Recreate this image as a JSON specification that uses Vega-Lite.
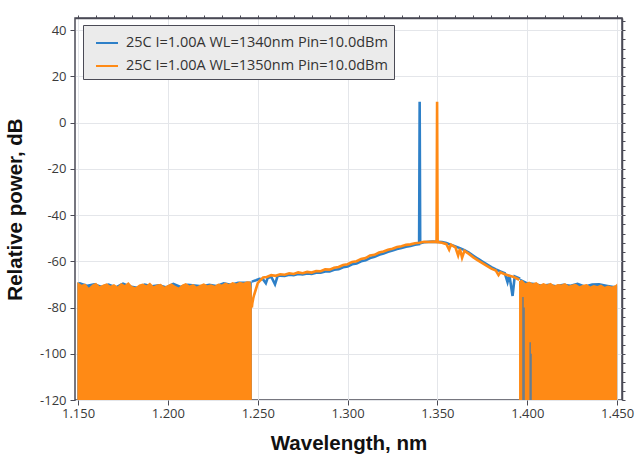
{
  "$schema": "https://vega.github.io/schema/vega-lite/v6.json",
  "width": 547,
  "height": 382,
  "autosize": {"type": "none"},
  "padding": {"left": 75, "top": 18, "right": 18, "bottom": 65},
  "background": "white",
  "config": {
    "view": {"stroke": "#4a4a55", "strokeWidth": 1.5},
    "axis": {
      "labelFont": "Open Sans",
      "labelFontSize": 13,
      "labelColor": "#3a3a3a",
      "titleFont": "Liberation Sans",
      "titleFontSize": 20.5,
      "titleFontWeight": "bold",
      "titleColor": "#111111",
      "tickColor": "#4a4a55",
      "domainColor": "#4a4a55",
      "gridColor": "#e4e6ea",
      "gridWidth": 1
    },
    "legend": {
      "title": null,
      "orient": "none",
      "legendX": 8,
      "legendY": 7,
      "symbolType": "stroke",
      "symbolSize": 484,
      "symbolStrokeWidth": 2,
      "symbolOffset": 6,
      "labelOffset": 7,
      "labelFont": "Open Sans",
      "labelFontSize": 14.5,
      "labelColor": "#333333",
      "labelLimit": 400,
      "padding": 6,
      "rowPadding": 4,
      "fillColor": "#ebebeb",
      "strokeColor": "#4a4a55",
      "cornerRadius": 0
    }
  },
  "datasets": {
    "floor": [
      {"s": "1340", "g": "L", "wl": 1.1496, "v": -69.3},
      {"s": "1340", "g": "L", "wl": 1.151, "v": -69.0},
      {"s": "1340", "g": "L", "wl": 1.155, "v": -70.0},
      {"s": "1340", "g": "L", "wl": 1.159, "v": -69.4},
      {"s": "1340", "g": "L", "wl": 1.163, "v": -70.5},
      {"s": "1340", "g": "L", "wl": 1.167, "v": -69.5},
      {"s": "1340", "g": "L", "wl": 1.171, "v": -70.7},
      {"s": "1340", "g": "L", "wl": 1.175, "v": -69.1},
      {"s": "1340", "g": "L", "wl": 1.179, "v": -70.4},
      {"s": "1340", "g": "L", "wl": 1.183, "v": -70.9},
      {"s": "1340", "g": "L", "wl": 1.187, "v": -69.5},
      {"s": "1340", "g": "L", "wl": 1.191, "v": -70.3},
      {"s": "1340", "g": "L", "wl": 1.195, "v": -69.8},
      {"s": "1340", "g": "L", "wl": 1.199, "v": -70.7},
      {"s": "1340", "g": "L", "wl": 1.203, "v": -69.2},
      {"s": "1340", "g": "L", "wl": 1.207, "v": -70.5},
      {"s": "1340", "g": "L", "wl": 1.211, "v": -69.6},
      {"s": "1340", "g": "L", "wl": 1.215, "v": -69.9},
      {"s": "1340", "g": "L", "wl": 1.219, "v": -70.3},
      {"s": "1340", "g": "L", "wl": 1.223, "v": -69.6},
      {"s": "1340", "g": "L", "wl": 1.227, "v": -70.2},
      {"s": "1340", "g": "L", "wl": 1.231, "v": -69.0},
      {"s": "1340", "g": "L", "wl": 1.235, "v": -69.6},
      {"s": "1340", "g": "L", "wl": 1.239, "v": -68.8},
      {"s": "1340", "g": "L", "wl": 1.243, "v": -68.7},
      {"s": "1340", "g": "L", "wl": 1.2467, "v": -68.8},
      {"s": "1340", "g": "R", "wl": 1.396, "v": -67.5},
      {"s": "1340", "g": "R", "wl": 1.400, "v": -69.0},
      {"s": "1340", "g": "R", "wl": 1.404, "v": -69.3},
      {"s": "1340", "g": "R", "wl": 1.408, "v": -70.0},
      {"s": "1340", "g": "R", "wl": 1.412, "v": -69.6},
      {"s": "1340", "g": "R", "wl": 1.416, "v": -70.3},
      {"s": "1340", "g": "R", "wl": 1.420, "v": -69.6},
      {"s": "1340", "g": "R", "wl": 1.424, "v": -70.1},
      {"s": "1340", "g": "R", "wl": 1.428, "v": -69.2},
      {"s": "1340", "g": "R", "wl": 1.432, "v": -70.4},
      {"s": "1340", "g": "R", "wl": 1.436, "v": -69.5},
      {"s": "1340", "g": "R", "wl": 1.440, "v": -69.4},
      {"s": "1340", "g": "R", "wl": 1.444, "v": -70.1},
      {"s": "1340", "g": "R", "wl": 1.448, "v": -70.6},
      {"s": "1340", "g": "R", "wl": 1.450, "v": -70.5},
      {"s": "1350", "g": "L", "wl": 1.1496, "v": -69.0},
      {"s": "1350", "g": "L", "wl": 1.152, "v": -70.2},
      {"s": "1350", "g": "L", "wl": 1.154, "v": -69.6},
      {"s": "1350", "g": "L", "wl": 1.156, "v": -71.5},
      {"s": "1350", "g": "L", "wl": 1.158, "v": -70.0},
      {"s": "1350", "g": "L", "wl": 1.160, "v": -69.3},
      {"s": "1350", "g": "L", "wl": 1.162, "v": -70.8},
      {"s": "1350", "g": "L", "wl": 1.164, "v": -70.1},
      {"s": "1350", "g": "L", "wl": 1.166, "v": -69.5},
      {"s": "1350", "g": "L", "wl": 1.168, "v": -70.6},
      {"s": "1350", "g": "L", "wl": 1.170, "v": -69.8},
      {"s": "1350", "g": "L", "wl": 1.172, "v": -70.9},
      {"s": "1350", "g": "L", "wl": 1.174, "v": -69.4},
      {"s": "1350", "g": "L", "wl": 1.176, "v": -70.3},
      {"s": "1350", "g": "L", "wl": 1.178, "v": -69.0},
      {"s": "1350", "g": "L", "wl": 1.180, "v": -70.7},
      {"s": "1350", "g": "L", "wl": 1.182, "v": -71.2},
      {"s": "1350", "g": "L", "wl": 1.184, "v": -70.0},
      {"s": "1350", "g": "L", "wl": 1.186, "v": -69.6},
      {"s": "1350", "g": "L", "wl": 1.188, "v": -70.4},
      {"s": "1350", "g": "L", "wl": 1.190, "v": -69.2},
      {"s": "1350", "g": "L", "wl": 1.192, "v": -70.8},
      {"s": "1350", "g": "L", "wl": 1.194, "v": -70.1},
      {"s": "1350", "g": "L", "wl": 1.196, "v": -69.7},
      {"s": "1350", "g": "L", "wl": 1.198, "v": -71.0},
      {"s": "1350", "g": "L", "wl": 1.200, "v": -70.3},
      {"s": "1350", "g": "L", "wl": 1.202, "v": -69.5},
      {"s": "1350", "g": "L", "wl": 1.204, "v": -70.6},
      {"s": "1350", "g": "L", "wl": 1.206, "v": -71.3},
      {"s": "1350", "g": "L", "wl": 1.208, "v": -70.0},
      {"s": "1350", "g": "L", "wl": 1.210, "v": -69.4},
      {"s": "1350", "g": "L", "wl": 1.212, "v": -70.5},
      {"s": "1350", "g": "L", "wl": 1.214, "v": -69.8},
      {"s": "1350", "g": "L", "wl": 1.216, "v": -70.9},
      {"s": "1350", "g": "L", "wl": 1.218, "v": -70.2},
      {"s": "1350", "g": "L", "wl": 1.220, "v": -69.5},
      {"s": "1350", "g": "L", "wl": 1.222, "v": -70.4},
      {"s": "1350", "g": "L", "wl": 1.224, "v": -69.9},
      {"s": "1350", "g": "L", "wl": 1.226, "v": -70.6},
      {"s": "1350", "g": "L", "wl": 1.228, "v": -69.6},
      {"s": "1350", "g": "L", "wl": 1.230, "v": -70.1},
      {"s": "1350", "g": "L", "wl": 1.232, "v": -69.2},
      {"s": "1350", "g": "L", "wl": 1.234, "v": -69.8},
      {"s": "1350", "g": "L", "wl": 1.236, "v": -69.0},
      {"s": "1350", "g": "L", "wl": 1.238, "v": -69.6},
      {"s": "1350", "g": "L", "wl": 1.240, "v": -68.9},
      {"s": "1350", "g": "L", "wl": 1.242, "v": -69.3},
      {"s": "1350", "g": "L", "wl": 1.244, "v": -68.6},
      {"s": "1350", "g": "L", "wl": 1.246, "v": -68.8},
      {"s": "1350", "g": "L", "wl": 1.2467, "v": -72.0},
      {"s": "1350", "g": "R", "wl": 1.3954, "v": -68.5},
      {"s": "1350", "g": "R", "wl": 1.397, "v": -68.0},
      {"s": "1350", "g": "R", "wl": 1.399, "v": -69.5},
      {"s": "1350", "g": "R", "wl": 1.401, "v": -68.8},
      {"s": "1350", "g": "R", "wl": 1.403, "v": -69.6},
      {"s": "1350", "g": "R", "wl": 1.405, "v": -69.0},
      {"s": "1350", "g": "R", "wl": 1.407, "v": -70.2},
      {"s": "1350", "g": "R", "wl": 1.409, "v": -69.4},
      {"s": "1350", "g": "R", "wl": 1.411, "v": -70.0},
      {"s": "1350", "g": "R", "wl": 1.413, "v": -69.3},
      {"s": "1350", "g": "R", "wl": 1.415, "v": -70.5},
      {"s": "1350", "g": "R", "wl": 1.417, "v": -69.8},
      {"s": "1350", "g": "R", "wl": 1.419, "v": -70.1},
      {"s": "1350", "g": "R", "wl": 1.421, "v": -69.4},
      {"s": "1350", "g": "R", "wl": 1.423, "v": -70.6},
      {"s": "1350", "g": "R", "wl": 1.425, "v": -70.0},
      {"s": "1350", "g": "R", "wl": 1.427, "v": -69.7},
      {"s": "1350", "g": "R", "wl": 1.429, "v": -70.8},
      {"s": "1350", "g": "R", "wl": 1.431, "v": -70.2},
      {"s": "1350", "g": "R", "wl": 1.433, "v": -69.8},
      {"s": "1350", "g": "R", "wl": 1.435, "v": -70.9},
      {"s": "1350", "g": "R", "wl": 1.437, "v": -70.3},
      {"s": "1350", "g": "R", "wl": 1.439, "v": -70.7},
      {"s": "1350", "g": "R", "wl": 1.441, "v": -70.1},
      {"s": "1350", "g": "R", "wl": 1.443, "v": -71.0},
      {"s": "1350", "g": "R", "wl": 1.445, "v": -70.5},
      {"s": "1350", "g": "R", "wl": 1.447, "v": -70.9},
      {"s": "1350", "g": "R", "wl": 1.449, "v": -70.4},
      {"s": "1350", "g": "R", "wl": 1.450, "v": -69.6}
    ],
    "trace": [
      {"s": "1340", "wl": 1.2467, "v": -68.8},
      {"s": "1340", "wl": 1.2490, "v": -68.2},
      {"s": "1340", "wl": 1.2510, "v": -67.6},
      {"s": "1340", "wl": 1.2530, "v": -67.9},
      {"s": "1340", "wl": 1.2545, "v": -69.5},
      {"s": "1340", "wl": 1.2555, "v": -67.3},
      {"s": "1340", "wl": 1.2575, "v": -66.7},
      {"s": "1340", "wl": 1.2596, "v": -70.0},
      {"s": "1340", "wl": 1.2610, "v": -66.5},
      {"s": "1340", "wl": 1.2625, "v": -66.2},
      {"s": "1340", "wl": 1.2650, "v": -66.3},
      {"s": "1340", "wl": 1.2675, "v": -65.8},
      {"s": "1340", "wl": 1.2700, "v": -66.0},
      {"s": "1340", "wl": 1.2725, "v": -65.5},
      {"s": "1340", "wl": 1.2750, "v": -65.7},
      {"s": "1340", "wl": 1.2775, "v": -65.3},
      {"s": "1340", "wl": 1.2800, "v": -65.5},
      {"s": "1340", "wl": 1.2825, "v": -65.0},
      {"s": "1340", "wl": 1.2850, "v": -65.0},
      {"s": "1340", "wl": 1.2875, "v": -64.4},
      {"s": "1340", "wl": 1.2900, "v": -64.4},
      {"s": "1340", "wl": 1.2925, "v": -63.7},
      {"s": "1340", "wl": 1.2950, "v": -63.5},
      {"s": "1340", "wl": 1.2975, "v": -62.6},
      {"s": "1340", "wl": 1.3000, "v": -62.3},
      {"s": "1340", "wl": 1.3025, "v": -61.3},
      {"s": "1340", "wl": 1.3050, "v": -61.0},
      {"s": "1340", "wl": 1.3075, "v": -60.0},
      {"s": "1340", "wl": 1.3100, "v": -59.6},
      {"s": "1340", "wl": 1.3125, "v": -58.6},
      {"s": "1340", "wl": 1.3150, "v": -58.1},
      {"s": "1340", "wl": 1.3175, "v": -57.2},
      {"s": "1340", "wl": 1.3200, "v": -56.7},
      {"s": "1340", "wl": 1.3225, "v": -55.9},
      {"s": "1340", "wl": 1.3250, "v": -55.4},
      {"s": "1340", "wl": 1.3275, "v": -54.7},
      {"s": "1340", "wl": 1.3300, "v": -54.3},
      {"s": "1340", "wl": 1.3325, "v": -53.7},
      {"s": "1340", "wl": 1.3350, "v": -53.4},
      {"s": "1340", "wl": 1.3375, "v": -52.9},
      {"s": "1340", "wl": 1.3398, "v": -52.6},
      {"s": "1340", "wl": 1.3401, "v": 9.0},
      {"s": "1340", "wl": 1.3404, "v": -52.2},
      {"s": "1340", "wl": 1.3425, "v": -51.8},
      {"s": "1340", "wl": 1.3450, "v": -51.6},
      {"s": "1340", "wl": 1.3475, "v": -51.5},
      {"s": "1340", "wl": 1.3500, "v": -51.6},
      {"s": "1340", "wl": 1.3525, "v": -51.7},
      {"s": "1340", "wl": 1.3550, "v": -52.1},
      {"s": "1340", "wl": 1.3575, "v": -52.9},
      {"s": "1340", "wl": 1.3600, "v": -53.6},
      {"s": "1340", "wl": 1.3625, "v": -54.3},
      {"s": "1340", "wl": 1.3650, "v": -55.2},
      {"s": "1340", "wl": 1.3675, "v": -56.3},
      {"s": "1340", "wl": 1.3700, "v": -57.6},
      {"s": "1340", "wl": 1.3725, "v": -58.9},
      {"s": "1340", "wl": 1.3750, "v": -60.1},
      {"s": "1340", "wl": 1.3775, "v": -61.3},
      {"s": "1340", "wl": 1.3800, "v": -62.5},
      {"s": "1340", "wl": 1.3825, "v": -63.5},
      {"s": "1340", "wl": 1.3850, "v": -64.4},
      {"s": "1340", "wl": 1.3875, "v": -65.2},
      {"s": "1340", "wl": 1.3890, "v": -69.0},
      {"s": "1340", "wl": 1.3900, "v": -65.9},
      {"s": "1340", "wl": 1.3918, "v": -75.0},
      {"s": "1340", "wl": 1.3930, "v": -66.5},
      {"s": "1340", "wl": 1.3960, "v": -67.5},
      {"s": "1350", "wl": 1.2467, "v": -80.0},
      {"s": "1350", "wl": 1.2470, "v": -78.0},
      {"s": "1350", "wl": 1.2475, "v": -76.0},
      {"s": "1350", "wl": 1.2480, "v": -74.5},
      {"s": "1350", "wl": 1.2490, "v": -72.0},
      {"s": "1350", "wl": 1.2500, "v": -69.5},
      {"s": "1350", "wl": 1.2515, "v": -68.2},
      {"s": "1350", "wl": 1.2530, "v": -67.0},
      {"s": "1350", "wl": 1.2550, "v": -66.8},
      {"s": "1350", "wl": 1.2575, "v": -66.0},
      {"s": "1350", "wl": 1.2600, "v": -66.3},
      {"s": "1350", "wl": 1.2625, "v": -65.6},
      {"s": "1350", "wl": 1.2650, "v": -65.8},
      {"s": "1350", "wl": 1.2675, "v": -65.2},
      {"s": "1350", "wl": 1.2700, "v": -65.5},
      {"s": "1350", "wl": 1.2725, "v": -64.8},
      {"s": "1350", "wl": 1.2750, "v": -65.2},
      {"s": "1350", "wl": 1.2775, "v": -64.6},
      {"s": "1350", "wl": 1.2800, "v": -64.9},
      {"s": "1350", "wl": 1.2825, "v": -64.2},
      {"s": "1350", "wl": 1.2850, "v": -64.3},
      {"s": "1350", "wl": 1.2875, "v": -63.5},
      {"s": "1350", "wl": 1.2900, "v": -63.6},
      {"s": "1350", "wl": 1.2925, "v": -62.8},
      {"s": "1350", "wl": 1.2950, "v": -62.5},
      {"s": "1350", "wl": 1.2975, "v": -61.6},
      {"s": "1350", "wl": 1.3000, "v": -61.3},
      {"s": "1350", "wl": 1.3025, "v": -60.3},
      {"s": "1350", "wl": 1.3050, "v": -60.0},
      {"s": "1350", "wl": 1.3075, "v": -59.0},
      {"s": "1350", "wl": 1.3100, "v": -58.6},
      {"s": "1350", "wl": 1.3125, "v": -57.5},
      {"s": "1350", "wl": 1.3150, "v": -57.2},
      {"s": "1350", "wl": 1.3175, "v": -56.2},
      {"s": "1350", "wl": 1.3200, "v": -55.8},
      {"s": "1350", "wl": 1.3225, "v": -55.0},
      {"s": "1350", "wl": 1.3250, "v": -54.6},
      {"s": "1350", "wl": 1.3275, "v": -53.8},
      {"s": "1350", "wl": 1.3300, "v": -53.5},
      {"s": "1350", "wl": 1.3325, "v": -52.9},
      {"s": "1350", "wl": 1.3350, "v": -52.7},
      {"s": "1350", "wl": 1.3375, "v": -52.2},
      {"s": "1350", "wl": 1.3400, "v": -52.0},
      {"s": "1350", "wl": 1.3425, "v": -51.6},
      {"s": "1350", "wl": 1.3450, "v": -51.7},
      {"s": "1350", "wl": 1.3475, "v": -51.5},
      {"s": "1350", "wl": 1.3495, "v": -51.7},
      {"s": "1350", "wl": 1.3498, "v": 9.0},
      {"s": "1350", "wl": 1.3501, "v": -51.7},
      {"s": "1350", "wl": 1.3525, "v": -52.0},
      {"s": "1350", "wl": 1.3550, "v": -52.6},
      {"s": "1350", "wl": 1.3565, "v": -55.0},
      {"s": "1350", "wl": 1.3575, "v": -52.8},
      {"s": "1350", "wl": 1.3600, "v": -54.0},
      {"s": "1350", "wl": 1.3615, "v": -57.5},
      {"s": "1350", "wl": 1.3625, "v": -54.6},
      {"s": "1350", "wl": 1.3637, "v": -58.5},
      {"s": "1350", "wl": 1.3650, "v": -55.5},
      {"s": "1350", "wl": 1.3675, "v": -56.8},
      {"s": "1350", "wl": 1.3700, "v": -58.3},
      {"s": "1350", "wl": 1.3725, "v": -59.6},
      {"s": "1350", "wl": 1.3750, "v": -60.8},
      {"s": "1350", "wl": 1.3775, "v": -62.0},
      {"s": "1350", "wl": 1.3800, "v": -63.2},
      {"s": "1350", "wl": 1.3825, "v": -64.0},
      {"s": "1350", "wl": 1.3840, "v": -66.0},
      {"s": "1350", "wl": 1.3850, "v": -64.8},
      {"s": "1350", "wl": 1.3875, "v": -65.6},
      {"s": "1350", "wl": 1.3900, "v": -66.3},
      {"s": "1350", "wl": 1.3925, "v": -66.8},
      {"s": "1350", "wl": 1.3955, "v": -68.0}
    ],
    "dips": [
      {"wl": 1.3976, "v": -75.5},
      {"wl": 1.3982, "v": -80.0},
      {"wl": 1.4016, "v": -95.0},
      {"wl": 1.4021, "v": -100.0}
    ]
  },
  "resolve": {"axis": {"x": "independent", "y": "independent"}},
  "layer": [
    {
      "data": {"name": "floor"},
      "mark": {"type": "area", "clip": true, "interpolate": "linear"},
      "encoding": {
        "x": {
          "field": "wl", "type": "quantitative",
          "scale": {"domain": [1.1483, 1.4527], "nice": false, "zero": false},
          "axis": {
            "title": "Wavelength, nm",
            "values": [1.15, 1.2, 1.25, 1.3, 1.35, 1.4, 1.45],
            "format": ".3f",
            "domain": false,
            "tickSize": 5,
            "labelPadding": 2,
            "titleY": 49,
            "titleBaseline": "alphabetic",
            "grid": true,
            "zindex": 0
          }
        },
        "y": {
          "field": "v", "type": "quantitative",
          "scale": {"domain": [-120, 45.2], "nice": false, "zero": false},
          "axis": {
            "title": "Relative power, dB",
            "values": [-120, -100, -80, -60, -40, -20, 0, 20, 40],
            "labelExpr": "'' + datum.value",
            "domain": false,
            "tickSize": 5,
            "labelPadding": 4,
            "titleX": -60,
            "titleBaseline": "middle",
            "grid": true,
            "zindex": 0
          }
        },
        "y2": {"datum": -120},
        "detail": {"field": "g"},
        "color": {
          "field": "s", "type": "nominal",
          "scale": {"domain": ["1340", "1350"], "range": ["#2e80c8", "#ff8a15"]},
          "legend": {
            "labelExpr": "'25C I=1.00A WL=' + datum.label + 'nm Pin=10.0dBm'"
          }
        }
      }
    },
    {
      "data": {"name": "trace"},
      "mark": {"type": "line", "clip": true, "strokeWidth": 2.6, "interpolate": "linear"},
      "encoding": {
        "x": {"field": "wl", "type": "quantitative", "axis": null},
        "y": {"field": "v", "type": "quantitative", "axis": null},
        "color": {
          "field": "s", "type": "nominal",
          "legend": {
            "labelExpr": "'25C I=1.00A WL=' + datum.label + 'nm Pin=10.0dBm'"
          }
        }
      }
    },
    {
      "data": {"name": "dips"},
      "mark": {"type": "rule", "clip": true, "color": "#5b7d9c", "strokeWidth": 1.6, "opacity": 0.85},
      "encoding": {
        "x": {
          "field": "wl", "type": "quantitative",
          "axis": {
            "title": null,
            "values": [1.15, 1.16, 1.17, 1.18, 1.19, 1.2, 1.21, 1.22, 1.23, 1.24, 1.25, 1.26, 1.27, 1.28, 1.29, 1.3, 1.31, 1.32, 1.33, 1.34, 1.35, 1.36, 1.37, 1.38, 1.39, 1.4, 1.41, 1.42, 1.43, 1.44, 1.45],
            "labels": false,
            "grid": false,
            "domain": true,
            "domainWidth": 1.5,
            "tickSize": 3,
            "zindex": 1
          }
        },
        "y": {
          "field": "v", "type": "quantitative",
          "axis": {
            "title": null,
            "values": [-120, -116, -112, -108, -104, -100, -96, -92, -88, -84, -80, -76, -72, -68, -64, -60, -56, -52, -48, -44, -40, -36, -32, -28, -24, -20, -16, -12, -8, -4, 0, 4, 8, 12, 16, 20, 24, 28, 32, 36, 40, 44],
            "labels": false,
            "grid": false,
            "domain": true,
            "domainWidth": 1.5,
            "tickSize": 3,
            "zindex": 1
          }
        },
        "y2": {"datum": -120}
      }
    }
  ]
}
